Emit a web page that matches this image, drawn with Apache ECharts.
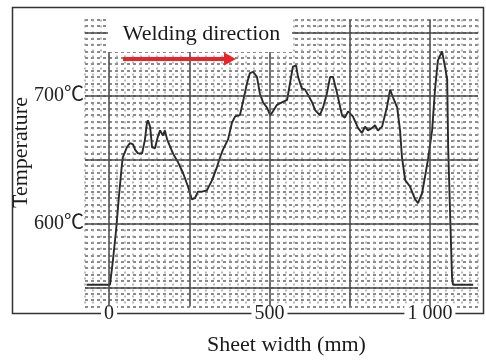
<!DOCTYPE html>
<html><head><meta charset="utf-8">
<script src="https://cdn.jsdelivr.net/npm/echarts@6/dist/echarts.min.js"></script>
<style>html,body{margin:0;padding:0;background:#fff}#c{width:486px;height:363px}</style>
</head><body><div id="c"></div>
<script>
const widthMm = [
  -70, 3, 6, 12, 22, 31, 40, 43, 56, 65,
  75, 81, 90, 103, 112, 118, 121, 128, 134, 143,
  152, 159, 168, 174, 181, 199, 215, 230, 246, 258,
  268, 277, 290, 305, 321, 336, 346, 355, 371, 383,
  393, 408, 417, 430, 439, 449, 461, 470, 480, 492,
  502, 511, 523, 539, 555, 564, 573, 583, 589, 601,
  611, 620, 633, 642, 657, 667, 679, 689, 698, 711,
  726, 735, 745, 760, 776, 788, 798, 807, 820, 829,
  838, 851, 866, 876, 882, 885, 898, 907, 913, 923,
  938, 954, 963, 976, 985, 994, 1007, 1016, 1025, 1038,
  1047, 1054, 1057, 1063, 1069, 1072, 1135
];
const tempC = [
  552, 552, 553, 571, 595, 622, 646, 652, 660, 663,
  662, 658, 655, 655, 666, 679, 681, 676, 660, 659,
  668, 673, 669, 673, 666, 655, 648, 640, 629, 619,
  620, 625, 625, 626, 634, 644, 652, 658, 666, 679,
  684, 685, 695, 710, 718, 719, 715, 702, 695, 691,
  685, 688, 693, 695, 697, 710, 723, 724, 715, 706,
  705, 701, 695, 689, 685, 691, 702, 715, 715, 702,
  685, 683, 688, 684, 675, 671, 676, 673, 675, 677,
  673, 676, 691, 705, 706, 699, 691, 673, 652, 634,
  629, 619, 616, 624, 637, 650, 673, 705, 728, 735,
  723, 713, 660, 608, 558, 552, 552
];
const xLabelValues = [0, 500, 1000];
const xLabelTexts = ['0', '500', '1 000'];
const yLabelValues = [600, 700];
const yLabelTexts = ['600℃', '700℃'];
const majorX = [0, 250, 500, 750, 1000];
const majorY = [550, 600, 650, 700, 750];
const xTitle = 'Sheet width (mm)';
const yTitle = 'Temperature';
const noteText = 'Welding direction';

const serif = '"Liberation Serif", "Times New Roman", "Noto Sans CJK SC", serif';
const chart = echarts.init(document.getElementById('c'), null, {renderer: 'canvas'});
const seriesData = widthMm.map((x, i) => [x, tempC[i]]);

function txtStyle(text, size) {
  return {
    text: text, font: size + 'px ' + serif, fill: '#1a1a1a',
    textAlign: 'center', textVerticalAlign: 'middle',
    align: 'center', verticalAlign: 'middle'
  };
}

chart.setOption({
  animation: false,
  backgroundColor: '#fff',
  grid: {left: 85, right: 8, top: 19.5, bottom: 56.6},
  xAxis: {
    type: 'value', min: -75, max: 1150, interval: 25,
    axisLine: {show: false}, axisTick: {show: false},
    splitLine: {show: true, lineStyle: {color: '#a4a4a4', width: 1.5, type: [2, 4]}},
    axisLabel: {
      margin: 7, verticalAlign: 'middle',
      formatter: v => { const i = xLabelValues.indexOf(v); return i < 0 ? '' : '{t|' + xLabelTexts[i] + '}'; },
      rich: {t: {fontFamily: serif, fontSize: 20, color: '#222', backgroundColor: '#fff', padding: [0, 3]}}
    }
  },
  yAxis: {
    type: 'value', min: 535, max: 760, interval: 5,
    axisLine: {show: false}, axisTick: {show: false},
    splitLine: {show: true, lineStyle: {color: '#8a8a8a', width: 2, type: [3, 3]}},
    axisLabel: {
      margin: 1, fontFamily: serif, fontSize: 20, color: '#222',
      formatter: v => { const i = yLabelValues.indexOf(v); return i < 0 ? '' : yLabelTexts[i]; }
    }
  },
  series: [{
    type: 'line', data: seriesData, symbol: 'none', clip: true,
    lineStyle: {color: '#2a2a2a', width: 1.9},
    markLine: {
      silent: true, symbol: ['none', 'none'], label: {show: false},
      lineStyle: {color: '#4a4a4a', width: 1.5, type: 'solid'},
      data: majorX.map(v => ({xAxis: v})).concat(majorY.map(v => ({yAxis: v})))
    }
  }],
  graphic: {elements: [
    {type: 'rect', z: -1, shape: {x: 12.5, y: 7.5, width: 471, height: 306}, style: {fill: 'none', stroke: '#333', lineWidth: 1.5}},
    {type: 'rect', z: 50, shape: {x: 108, y: 15, width: 184, height: 37}, style: {fill: '#fff'}},
    {type: 'text', z: 51, x: 201.5, y: 34, style: txtStyle(noteText, 22)},
    {type: 'line', z: 52, shape: {x1: 123, y1: 59, x2: 227, y2: 59}, style: {stroke: '#e8262a', lineWidth: 4}},
    {type: 'polygon', z: 52, shape: {points: [[224, 52.5], [236, 59], [224, 65.5]]}, style: {fill: '#e8262a'}},
    {type: 'text', z: 51, x: 21, y: 152.5, rotation: Math.PI / 2, style: txtStyle(yTitle, 22)},
    {type: 'text', z: 51, x: 286.5, y: 345.5, style: txtStyle(xTitle, 22)}
  ]}
});
</script>
</body></html>
